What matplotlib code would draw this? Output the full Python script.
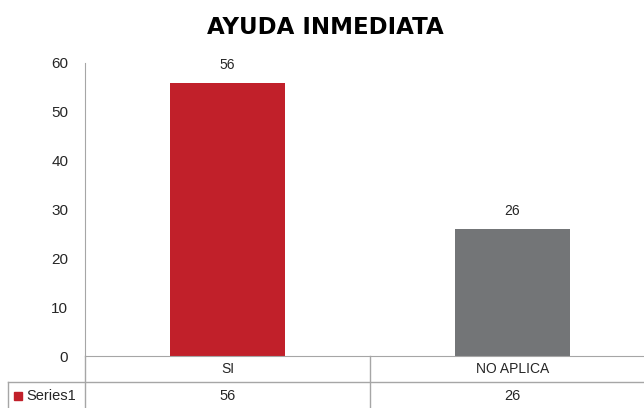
import matplotlib.pyplot as plt
from matplotlib.lines import Line2D
from matplotlib.patches import Rectangle
from matplotlib.transforms import blended_transform_factory

plt.rcParams['font.family'] = ['Liberation Sans', 'DejaVu Sans']

# datos
categorias = ["SI", "NO APLICA"]
valores = [56, 26]
colores = ["#C1202A", "#737577"]
serie = "Series1"
titulo = "AYUDA INMEDIATA"

W, H = 644, 408
fig = plt.figure(figsize=(W / 100, H / 100), dpi=100)

# area del grafico (en pixeles de la imagen)
x0, x1 = 85, 655
y_top, y_bot = 63, 356
ax = fig.add_axes([x0 / W, 1 - y_bot / H, (x1 - x0) / W, (y_bot - y_top) / H])

pos = list(range(len(categorias)))
ax.bar(pos, valores, width=0.405, color=colores)
for p, v in zip(pos, valores):
    ax.text(p, v + 2.2, str(v), ha="center", va="bottom", fontsize=10, color="#262626")

ax.set_xlim(-0.5, len(categorias) - 0.5)
ax.set_ylim(0, 60)
ax.set_yticks(range(0, 61, 10))
ax.set_xticks([])
ax.tick_params(axis="y", length=0, pad=12, labelsize=11, labelcolor="#262626")
for s in ["top", "right"]:
    ax.spines[s].set_visible(False)
ax.spines["left"].set_color("#A6A6A6")
ax.spines["bottom"].set_color("#A6A6A6")

fig.text(0.505, 1 - 27 / H, titulo, ha="center", va="center",
         fontsize=16.5, fontweight="bold", family=["DejaVu Sans"])

# tabla de datos bajo el eje
gris = "#A6A6A6"
tf = fig.transFigure
bt = blended_transform_factory(ax.transData, tf)
y_row = 1 - 382 / H
# linea vertical del eje hasta el borde
fig.add_artist(Line2D([x0 / W, x0 / W], [0, 1 - y_bot / H], color=gris, lw=1, transform=tf))
# separadores de categorias
for k in range(1, len(categorias)):
    fig.add_artist(Line2D([k - 0.5, k - 0.5], [0, 1 - y_bot / H], color=gris, lw=1, transform=bt))
# fila de la serie
fig.add_artist(Line2D([8 / W, 1], [y_row, y_row], color=gris, lw=1, transform=tf))
fig.add_artist(Line2D([8 / W, 8 / W], [0, y_row], color=gris, lw=1, transform=tf))

y_cat = 1 - 369 / H
y_val = 1 - 396 / H
for p, c, v in zip(pos, categorias, valores):
    fig.text(p, y_cat, c, ha="center", va="center", fontsize=10, color="#262626", transform=bt)
    fig.text(p, y_val, str(v), ha="center", va="center", fontsize=10.5, color="#262626", transform=bt)

fig.add_artist(Rectangle((14 / W, 1 - 400 / H), 8 / W, 8 / H, color=colores[0], transform=tf))
fig.text(26 / W, y_val, serie, ha="left", va="center", fontsize=10.5, color="#262626")

fig.savefig("out.png", dpi=100)
